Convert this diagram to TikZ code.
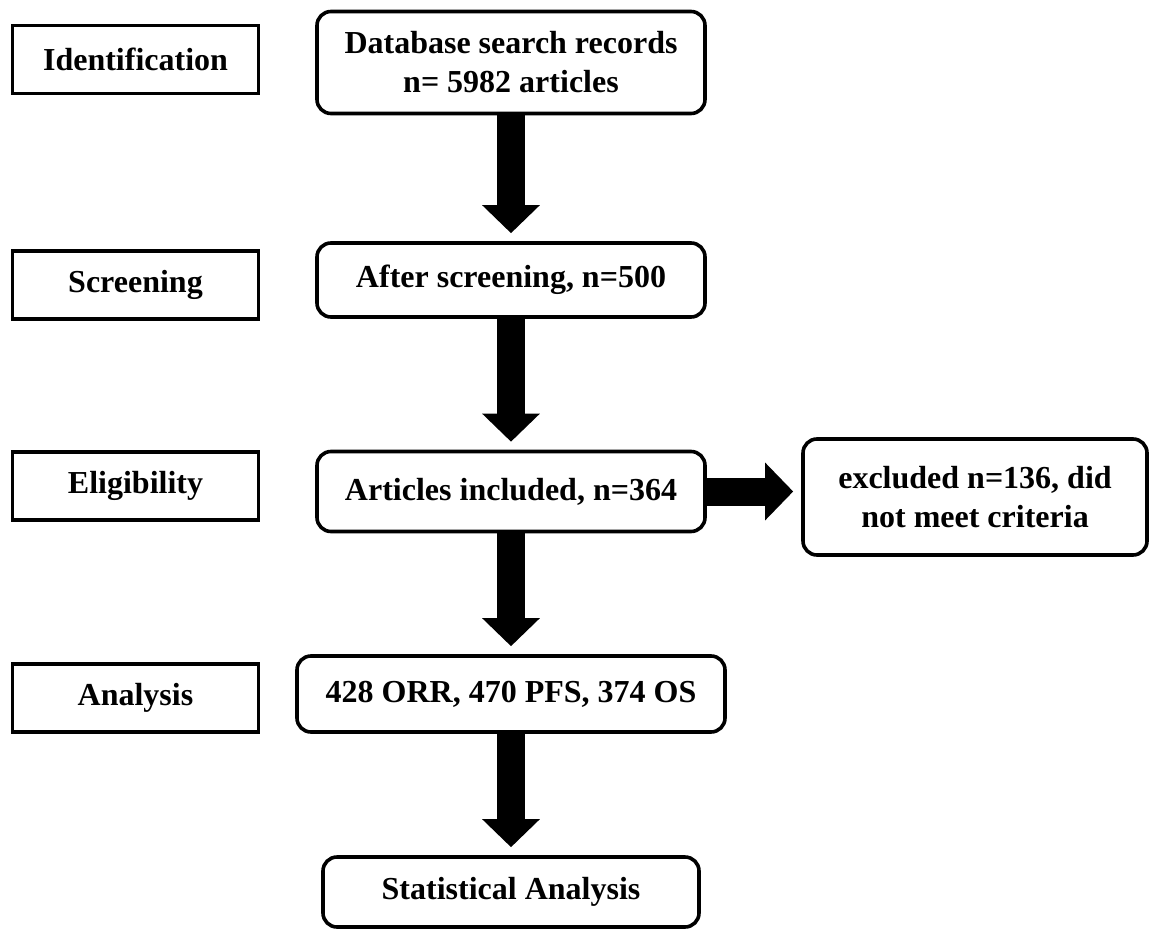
\documentclass[tikz,border=0pt]{standalone}
\usepackage{fontspec}
\setmainfont{Liberation Serif}
\usepackage{tikz}
\usetikzlibrary{arrows.meta,positioning}

\begin{document}
\begin{tikzpicture}[x=0.5pt, y=-0.5pt,
    every node/.style={font=\fontsize{16}{19.5}\selectfont\bfseries, align=center, inner sep=0pt},
    etapa/.style={draw, line width=1.8pt, minimum width=123pt, minimum height=34pt},
    caja/.style={draw, line width=1.8pt, rounded corners=7pt},
    flecha/.style={line width=14pt, -{Triangle[width=28pt,length=14pt]}, shorten >=4pt}]
    \useasboundingbox (0,0) rectangle (1149,930);

    % Etapas a la izquierda
    \node[etapa] (ident) at (135.5, 59.5) {Identification};
    \node[etapa] (scr)   at (135.5, 285)  {Screening};
    \node[etapa] (elig)  at (135.5, 486)  {Eligibility};
    \node[etapa] (anal)  at (135.5, 698)  {Analysis};

    % Cajas del flujo
    \node[caja, minimum width=194pt, minimum height=51pt] (db)    at (511, 62.5)  {Database search records\\n= 5982 articles};
    \node[caja, minimum width=194pt, minimum height=37pt] (after) at (511, 280)   {After screening, n=500};
    \node[caja, minimum width=194pt, minimum height=40pt] (incl)  at (511, 491.5) {Articles included, n=364};
    \node[caja, minimum width=172pt, minimum height=58pt] (excl)  at (975, 497)   {excluded n=136, did\\not meet criteria};
    \node[caja, minimum width=214pt, minimum height=38pt] (res)   at (511, 694)   {428 ORR, 470 PFS, 374 OS};
    \node[caja, minimum width=188pt, minimum height=35pt] (stat)  at (511, 892)   {Statistical Analysis};

    % Flechas
    \draw[flecha] (db) -- (after);
    \draw[flecha] (after) -- (incl);
    \draw[flecha] (incl.east) -- (incl.east -| excl.west);
    \draw[flecha] (incl) -- (res);
    \draw[flecha] (res) -- (stat);
\end{tikzpicture}
\end{document}
